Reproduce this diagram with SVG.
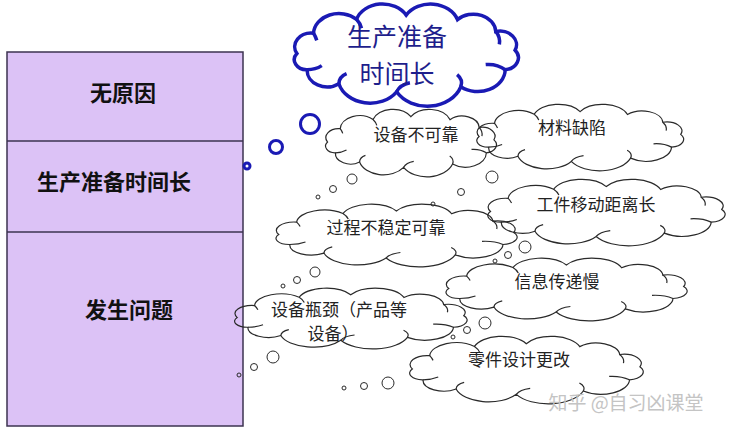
<svg xmlns="http://www.w3.org/2000/svg" xmlns:xlink="http://www.w3.org/1999/xlink" width="731" height="431" viewBox="0 0 731 431">
<style>
.cjk{font-family:"Noto Sans CJK SC","Noto Sans CJK JP",sans-serif;}
.lbl{font-size:22px;font-weight:bold;fill:#111;text-anchor:middle;}
.ct{font-size:17px;fill:#222;text-anchor:middle;}
.bt{font-size:25px;fill:#1e1e8c;text-anchor:middle;}
.cl{fill:none;stroke:#2a2a2a;stroke-width:1.2;}
.bl{fill:#fff;stroke:#1a1ab4;stroke-width:3.5;}
.bb{fill:none;stroke:#1a1ab4;stroke-width:3;}
.gb{fill:none;stroke:#2a2a2a;stroke-width:1;}
</style>
<defs>
<g id="cloud">
<path vector-effect="non-scaling-stroke" d="M12,50 A13.5,13.5 0 0 1 25.4,29.9 A20.5,20.5 0 0 1 60,16.1 A22,22 0 0 1 100,12 A23,23 0 0 1 141.3,16.4 A18,18 0 0 1 172.1,28.2 A13.5,13.5 0 0 1 187.7,46.7 A12,12 0 0 1 179.7,66.1 A22,22 0 0 1 144,82.9 A28.5,28.5 0 0 1 92.3,87.9 A26,26 0 0 1 45.8,79.9 A16,16 0 0 1 20.3,66.1 A10,10 0 0 1 12,50 Z"/>
<path vector-effect="non-scaling-stroke" fill="none" d="M20.3,66.1 Q27,66 32,62 M45.8,79.9 Q46,73 52,70 M92.3,87.9 Q95,81 103,79 M144,82.9 Q146,76 141,71 M179.7,66.1 Q173,60 164,61 M172.1,28.2 Q176,34 175,41 M60,16.1 Q63,20 64,25 M25.4,29.9 Q27,33 28,37"/>
</g>
</defs>

<g id="left-panel">
<rect x="7" y="52" width="236" height="374" fill="#dcc2f6" stroke="#3d3350" stroke-width="1.5"/>
<line x1="7" y1="141" x2="243" y2="141" stroke="#3d3350" stroke-width="1.5"/>
<line x1="7" y1="232" x2="243" y2="232" stroke="#3d3350" stroke-width="1.5"/>
</g>
<g id="row-none"><text class="cjk lbl" x="123" y="101">无原因</text></g>
<g id="row-setup"><text class="cjk lbl" x="114" y="190">生产准备时间长</text></g>
<g id="row-problem"><text class="cjk lbl" x="129" y="318">发生问题</text></g>

<g id="main-cloud">
<use xlink:href="#cloud" class="bl" transform="translate(282,3) scale(1.242,1.01)"/>
<text class="cjk bt" x="397" y="46">生产准备</text>
<text class="cjk bt" x="397" y="83">时间长</text>
</g>

<g id="cloud-equipment">
<use xlink:href="#cloud" class="cl" transform="translate(316.2,108.7) scale(0.947,0.667)"/>
<text class="cjk ct" x="416" y="141">设备不可靠</text>
</g>
<g id="cloud-material">
<use xlink:href="#cloud" class="cl" transform="translate(465.4,103.7) scale(1.147,0.657)"/>
<text class="cjk ct" x="572" y="134">材料缺陷</text>
</g>
<g id="cloud-distance">
<use xlink:href="#cloud" class="cl" transform="translate(474.7,178.7) scale(1.316,0.657)"/>
<text class="cjk ct" x="596" y="211">工件移动距离长</text>
</g>
<g id="cloud-process">
<use xlink:href="#cloud" class="cl" transform="translate(262.7,203.6) scale(1.337,0.619)"/>
<text class="cjk ct" x="386" y="234">过程不稳定可靠</text>
</g>
<g id="cloud-info">
<use xlink:href="#cloud" class="cl" transform="translate(432.7,257.6) scale(1.337,0.619)"/>
<text class="cjk ct" x="557" y="288">信息传递慢</text>
</g>
<g id="cloud-bottleneck">
<use xlink:href="#cloud" class="cl" transform="translate(221.8,287.6) scale(1.289,0.6)"/>
<text class="cjk ct" x="339" y="316" font-size="16">设备瓶颈（产品等</text>
<text class="cjk ct" x="333" y="340" font-size="16">设备）</text>
</g>
<g id="cloud-design">
<use xlink:href="#cloud" class="cl" transform="translate(396.8,335.7) scale(1.295,0.667)"/>
<text class="cjk ct" x="519" y="366">零件设计更改</text>
</g>

<g id="connectors">
<circle class="bb" cx="310" cy="124" r="9.5"/>
<circle class="bb" cx="276" cy="147" r="6.5"/>
<circle class="bb" cx="247" cy="166" r="3"/>
<circle class="gb" cx="352" cy="179" r="5"/>
<circle class="gb" cx="333" cy="189" r="3.5"/>
<circle class="gb" cx="318" cy="197" r="2"/>
<circle class="gb" cx="492" cy="177" r="6"/>
<circle class="gb" cx="461" cy="192" r="3.5"/>
<circle class="gb" cx="433" cy="204" r="2"/>
<circle class="gb" cx="525" cy="247" r="6"/>
<circle class="gb" cx="508" cy="255" r="3.5"/>
<circle class="gb" cx="495" cy="261" r="2"/>
<circle class="gb" cx="315" cy="272" r="5"/>
<circle class="gb" cx="297" cy="280" r="3.5"/>
<circle class="gb" cx="283" cy="286" r="2"/>
<circle class="gb" cx="485" cy="323" r="6"/>
<circle class="gb" cx="467" cy="330" r="3.5"/>
<circle class="gb" cx="453" cy="337" r="2"/>
<circle class="gb" cx="273" cy="357" r="6"/>
<circle class="gb" cx="254" cy="367" r="3.5"/>
<circle class="gb" cx="239" cy="375" r="2"/>
<circle class="gb" cx="388" cy="383" r="6"/>
<circle class="gb" cx="364" cy="386" r="3.5"/>
<circle class="gb" cx="344" cy="388" r="2"/>
</g>

<text class="cjk" x="626" y="410" font-size="19" fill="#c4c4c4" text-anchor="middle">知乎 @自习凶课堂</text>
</svg>
